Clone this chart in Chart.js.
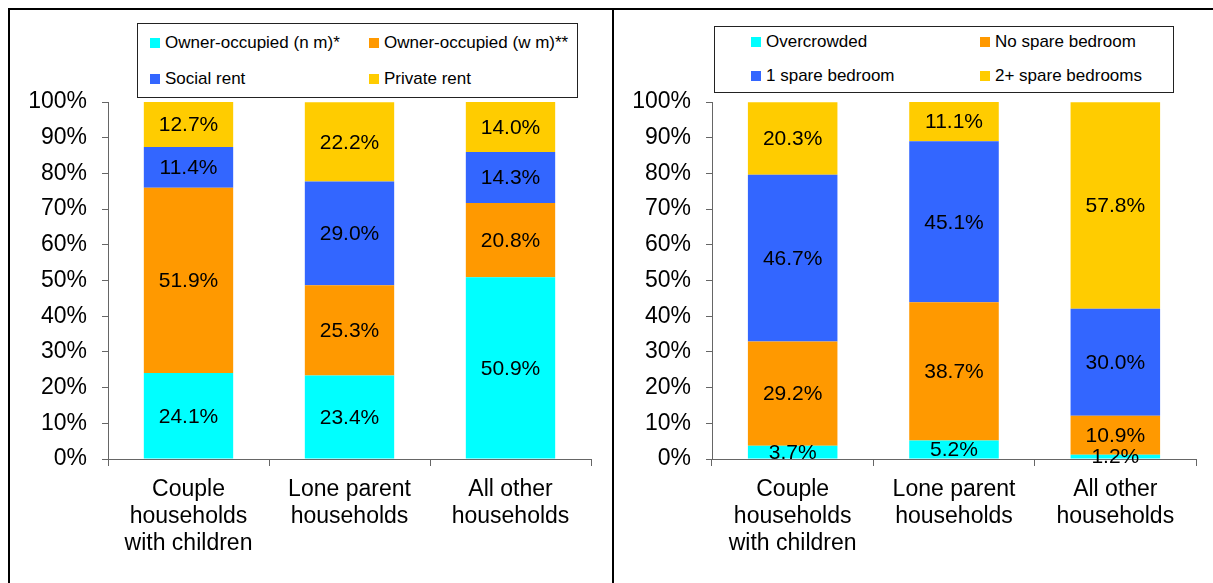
<!DOCTYPE html>
<html>
<head>
<meta charset="utf-8">
<script src="https://cdn.jsdelivr.net/npm/chart.js@4"></script>
<style>
  body { margin: 0; background: #fff; font-family: "Liberation Sans", Arial, sans-serif; }
  #page { position: relative; width: 1213px; height: 583px; overflow: hidden; background: #fff; }
  .rule { position: absolute; background: #000; }
  .wrap { position: absolute; top: 10px; }
  .legend { position: absolute; border: 1px solid #222; background: #fff; box-sizing: border-box; }
  .item { position: absolute; font-size: 17px; line-height: 20px; color: #000; white-space: nowrap; }
  .item i { position: absolute; left: 0; top: 5px; width: 10px; height: 10px; }
  .item span { position: absolute; left: 15px; top: 0; }
</style>
</head>
<body>
<div id="page">
  <div class="rule" style="left:8px;top:8px;width:1205px;height:2px"></div>
  <div class="rule" style="left:8px;top:8px;width:2px;height:575px"></div>
  <div class="rule" style="left:612px;top:8px;width:2px;height:575px"></div>

  <div class="wrap" style="left:10px"><canvas id="tenure" width="602" height="573"></canvas></div>
  <div class="wrap" style="left:614px"><canvas id="bedrooms" width="599" height="573"></canvas></div>

  <div class="legend" id="tenureLegend" style="left:137px;top:23px;width:441px;height:75px"></div>
  <div class="legend" id="bedroomLegend" style="left:714px;top:26px;width:460px;height:67px"></div>
</div>
<script>
const categories = [
  ['Couple', 'households', 'with children'],
  ['Lone parent', 'households'],
  ['All other', 'households']
];

// tenure split (%)
const tenureNames = ['Owner-occupied (n m)*', 'Owner-occupied (w m)**', 'Social rent', 'Private rent'];
const ownerNoMortgage = [24.1, 23.4, 50.9];
const ownerWithMortgage = [51.9, 25.3, 20.8];
const socialRent = [11.4, 29.0, 14.3];
const privateRent = [12.7, 22.2, 14.0];

// bedroom standard (%)
const bedroomNames = ['Overcrowded', 'No spare bedroom', '1 spare bedroom', '2+ spare bedrooms'];
const overcrowded = [3.7, 5.2, 1.2];
const noSpareBedroom = [29.2, 38.7, 10.9];
const oneSpareBedroom = [46.7, 45.1, 30.0];
const twoPlusSpare = [20.3, 11.1, 57.8];

const colours = ['#00FFFF', '#FF9900', '#3366FF', '#FFCC00'];
const FONT = '"Liberation Sans", Arial, sans-serif';

Chart.defaults.font.family = FONT;
Chart.defaults.color = '#000';

// value in the middle of each stacked segment
const segmentLabels = {
  id: 'segmentLabels',
  afterDatasetsDraw(chart) {
    const ctx = chart.ctx;
    ctx.save();
    ctx.font = '21px ' + FONT;
    ctx.fillStyle = '#000';
    ctx.textAlign = 'center';
    ctx.textBaseline = 'middle';
    chart.data.datasets.forEach((ds, i) => {
      chart.getDatasetMeta(i).data.forEach((bar, j) => {
        const p = bar.getProps(['x', 'y', 'base'], true);
        ctx.fillText(ds.data[j].toFixed(1) + '%', p.x, (p.y + p.base) / 2 + 1);
      });
    });
    ctx.restore();
  }
};

function makeDatasets(names, series) {
  return names.map((name, i) => ({
    label: name,
    data: series[i],
    backgroundColor: colours[i],
    borderWidth: 0,
    barPercentage: 0.555,
    categoryPercentage: 1
  }));
}

function stackedChart(id, names, series, padRight) {
  return new Chart(document.getElementById(id), {
    type: 'bar',
    data: { labels: categories, datasets: makeDatasets(names, series) },
    plugins: [segmentLabels],
    options: {
      responsive: false,
      animation: false,
      layout: { padding: { top: 92, right: padRight, left: 0, bottom: 0 } },
      plugins: { legend: { display: false }, tooltip: { enabled: false } },
      scales: {
        x: {
          stacked: true,
          grid: { drawOnChartArea: false, drawTicks: true, tickLength: 7, color: '#666', offset: true },
          border: { color: '#666', width: 1 },
          ticks: { font: { size: 23, lineHeight: 1.17 }, padding: 10, maxRotation: 0, autoSkip: false },
          afterFit(scale) { scale.height = 124; }
        },
        y: {
          stacked: true,
          min: 0,
          max: 100,
          grid: { drawOnChartArea: false, drawTicks: true, tickLength: 6, color: '#666' },
          border: { color: '#666', width: 1 },
          ticks: { stepSize: 10, font: { size: 23 }, padding: 15, callback: v => v + '%' },
          afterFit(scale) { scale.width = 98; }
        }
      }
    }
  });
}

function buildLegend(boxId, chart, cols, rows) {
  const box = document.getElementById(boxId);
  chart.data.datasets.forEach((ds, i) => {
    const el = document.createElement('div');
    el.className = 'item';
    el.style.left = cols[i % 2] + 'px';
    el.style.top = rows[Math.floor(i / 2)] + 'px';
    el.innerHTML = '<i style="background:' + ds.backgroundColor + '"></i><span></span>';
    el.querySelector('span').textContent = ds.label;
    box.appendChild(el);
  });
}

const tenureChart = stackedChart('tenure', tenureNames,
  [ownerNoMortgage, ownerWithMortgage, socialRent, privateRent], 21);
const bedroomChart = stackedChart('bedrooms', bedroomNames,
  [overcrowded, noSpareBedroom, oneSpareBedroom, twoPlusSpare], 17);

buildLegend('tenureLegend', tenureChart, [12, 231], [9, 45]);
buildLegend('bedroomLegend', bedroomChart, [36, 265], [5, 39]);
</script>
</body>
</html>
